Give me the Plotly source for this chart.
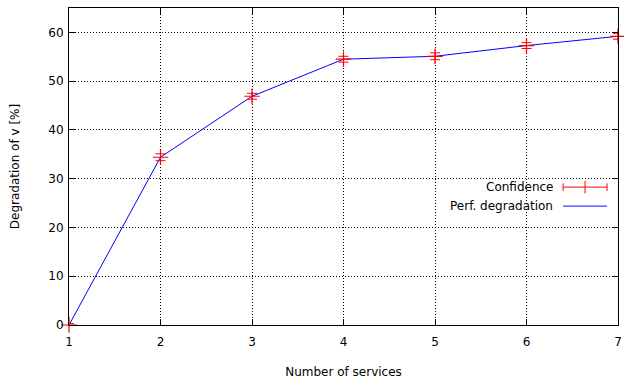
import plotly.graph_objects as go

# Measured degradation per number of co-located services
services = [1, 2, 3, 4, 5, 6, 7]
degradation = [0.0, 34.4, 46.9, 54.5, 55.1, 57.3, 59.2]
conf_half = [0.3, 0.7, 0.6, 0.6, 0.7, 0.6, 0.6]

x_ticks = [1, 2, 3, 4, 5, 6, 7]
y_ticks = [0, 10, 20, 30, 40, 50, 60]

FONT = "DejaVu Sans"
RED = "#ff0000"
BLUE = "#0000ff"

fig = go.Figure()

fig.add_trace(go.Scatter(
    x=services, y=degradation, mode="lines",
    line=dict(color=BLUE, width=1),
    name="Perf. degradation", showlegend=False, hoverinfo="skip", cliponaxis=False,
))

fig.add_trace(go.Scatter(
    x=services, y=degradation, mode="markers",
    marker=dict(symbol="cross-thin", size=11, line=dict(color=RED, width=1.2)),
    error_y=dict(type="data", array=conf_half, color=RED, thickness=1, width=5),
    name="Confidence", showlegend=False, hoverinfo="skip", cliponaxis=False,
))

axis_common = dict(
    showline=True, linecolor="black", linewidth=1, mirror="ticks",
    ticks="inside", ticklen=6, tickcolor="black", tickwidth=1,
    showgrid=True, gridcolor="black", griddash="1px,2px", gridwidth=1,
    zeroline=False,
    tickfont=dict(family=FONT, size=12, color="black"),
    ticklabeloverflow="allow",
)

fig.update_xaxes(
    range=[1, 7], tickvals=x_ticks, ticklabelstandoff=6,
    title=dict(text="Number of services", font=dict(family=FONT, size=12, color="black"), standoff=19),
    **axis_common,
)
fig.update_yaxes(
    range=[0, 65], tickvals=y_ticks, ticklabelstandoff=2,
    title=dict(text="Degradation of v [%]", font=dict(family=FONT, size=12, color="black"), standoff=26),
    **axis_common,
)

# Legend drawn in gnuplot style: label text on the left, sample on the right
legend_items = [("Confidence", "err", 0.435), ("Perf. degradation", "line", 0.375)]
for label, kind, yp in legend_items:
    fig.add_annotation(
        x=0.886, y=yp, xref="paper", yref="paper", text=label, showarrow=False,
        xanchor="right", yanchor="middle",
        font=dict(family=FONT, size=12, color="black"),
    )
    if kind == "err":
        fig.add_shape(type="line", xref="paper", yref="paper",
                      x0=0.90, x1=0.98, y0=yp, y1=yp, line=dict(color=RED, width=1))
        for xp in (0.90, 0.98):
            fig.add_shape(type="line", xref="paper", yref="paper",
                          x0=xp, x1=xp, y0=yp - 0.012, y1=yp + 0.012, line=dict(color=RED, width=1))
        fig.add_shape(type="line", xref="paper", yref="paper",
                      x0=0.94, x1=0.94, y0=yp - 0.02, y1=yp + 0.02, line=dict(color=RED, width=1))
    else:
        fig.add_shape(type="line", xref="paper", yref="paper",
                      x0=0.90, x1=0.98, y0=yp, y1=yp, line=dict(color="#3c3cff", width=1.4))

fig.update_layout(
    width=624, height=381,
    margin=dict(l=69, r=2, t=8, b=56),
    paper_bgcolor="white", plot_bgcolor="white",
    showlegend=False,
)

fig.write_html("out.html")
